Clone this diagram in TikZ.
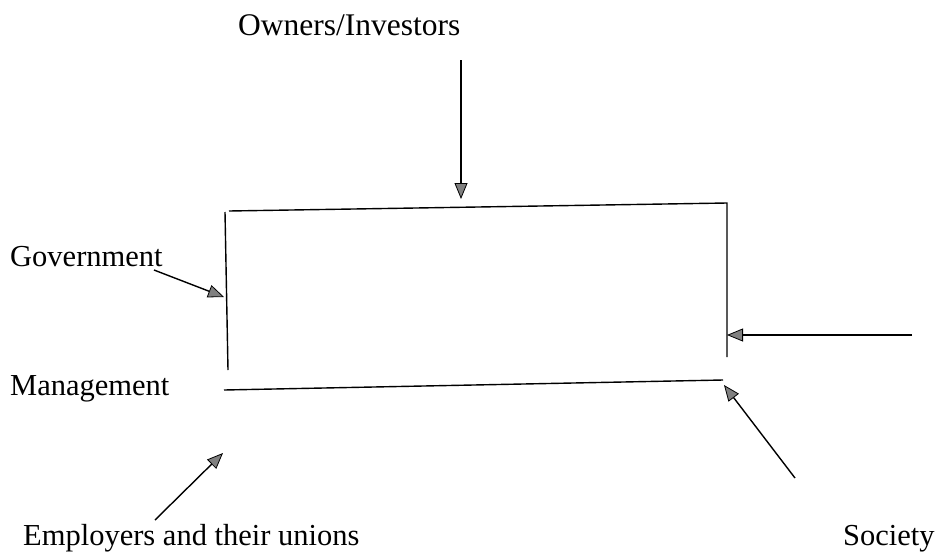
\documentclass[tikz,border=0pt]{standalone}
\usepackage{fontspec}
\setmainfont{Liberation Serif}
\usetikzlibrary{arrows.meta}
\begin{document}
\begin{tikzpicture}[x=1pt,y=-1pt,
  lbl/.style={anchor=base west,inner sep=0pt,font=\fontsize{30.5}{36}\selectfont},
  edge/.style={line width=1.4pt,black},
  arr/.style={line width=1.4pt,black,-{Triangle[length=16pt,width=13pt,fill=gray,line width=0.8pt]}}]
\useasboundingbox (0,0) rectangle (937,557);
% labels
\node[lbl,font=\fontsize{31.5}{36}\selectfont] (own) at (238,35) {Owners/Investors};
\node[lbl] (gov) at (10,266) {Government};
\node[lbl] (man) at (10,395) {Management};
\node[lbl] (emp) at (23,545) {Employers and their unions};
\node[lbl] (soc) at (843,545) {Society};
% box (open shape)
\coordinate (tl) at (229,211);
\coordinate (tr) at (727,203);
\coordinate (lt) at (225,212);
\coordinate (lb) at (228,370);
\coordinate (rb) at (727,357);
\coordinate (bl) at (224,390);
\coordinate (br) at (723,380);
\draw[edge] (tl) -- (tr) -- (rb);
\draw[edge] (lt) -- (lb);
\draw[edge] (bl) -- (br);
% arrows
\coordinate (a1s) at (461,60);  \coordinate (a1t) at (461,199);
\coordinate (a2s) at (154,270); \coordinate (a2t) at (224,297);
\coordinate (a3s) at (912,335); \coordinate (a3t) at (727,335);
\coordinate (a4s) at (795,478); \coordinate (a4t) at (724,385);
\coordinate (a5s) at (155,520); \coordinate (a5t) at (223,453);
\draw[arr] (a1s) -- (a1t);
\draw[arr] (a2s) -- (a2t);
\draw[arr] (a3s) -- (a3t);
\draw[arr] (a4s) -- (a4t);
\draw[arr] (a5s) -- (a5t);
\end{tikzpicture}
\end{document}
